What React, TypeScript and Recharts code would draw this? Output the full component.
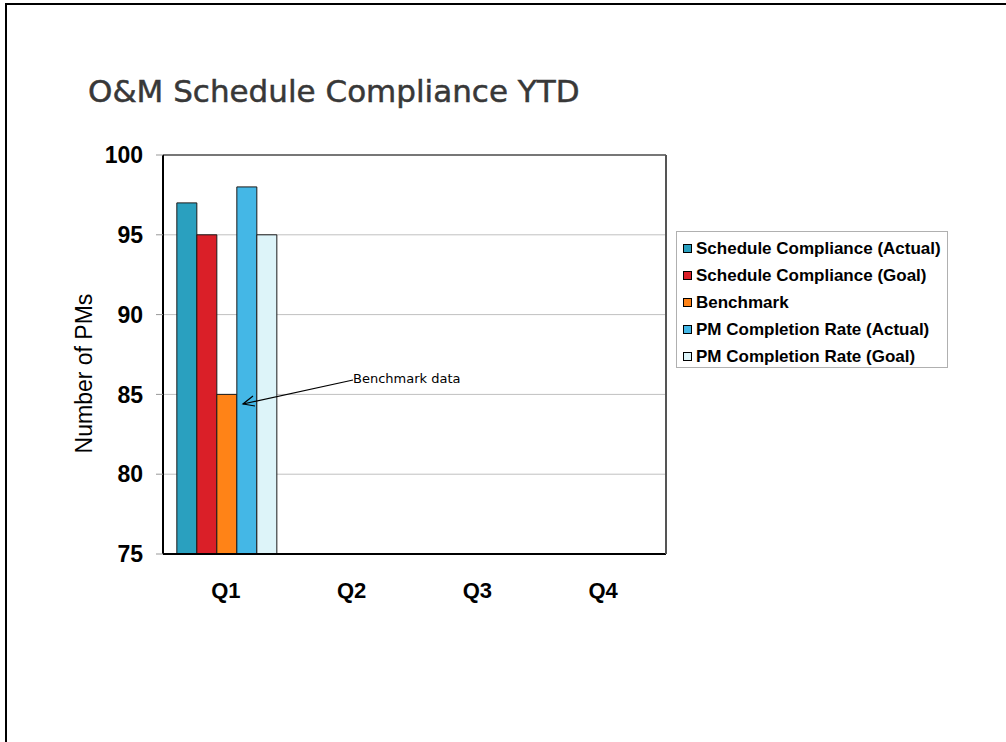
import { BarChart, Bar, XAxis, YAxis, CartesianGrid, ReferenceLine } from "recharts";

const quarters = ["Q1", "Q2", "Q3", "Q4"];
const schedActual = [97, null, null, null];
const schedGoal = [95, null, null, null];
const benchmark = [85, null, null, null];
const pmActual = [98, null, null, null];
const pmGoal = [95, null, null, null];
const yTicks = [75, 80, 85, 90, 95, 100];
const boundaryTicks = [0, 1, 2, 3, 4];

const series = [
  { key: "schedActual", name: "Schedule Compliance (Actual)", color: "#2aa0bf" },
  { key: "schedGoal", name: "Schedule Compliance (Goal)", color: "#da1f28" },
  { key: "benchmark", name: "Benchmark", color: "#ff8317" },
  { key: "pmActual", name: "PM Completion Rate (Actual)", color: "#44b7e6" },
  { key: "pmGoal", name: "PM Completion Rate (Goal)", color: "#ddf4f9" },
];

const data = quarters.map((q, i) => ({
  q,
  schedActual: schedActual[i],
  schedGoal: schedGoal[i],
  benchmark: benchmark[i],
  pmActual: pmActual[i],
  pmGoal: pmGoal[i],
}));

const yLabel = (props: any) => {
  const vb = props.viewBox;
  const cx = vb.x + 11;
  const cy = vb.y + vb.height / 2 + 19;
  return (
    <text
      x={cx}
      y={cy}
      transform={`rotate(-90 ${cx} ${cy})`}
      textAnchor="middle"
      dominantBaseline="central"
      fontFamily="'Liberation Sans', Arial, sans-serif"
      fontSize={23}
      fill="#000"
    >
      Number of PMs
    </text>
  );
};

export default function App() {
  return (
    <div style={{ position: "relative", width: 1006, height: 742, overflow: "hidden", background: "#fff" }}>
      <style>{`body{margin:0}`}</style>
      <div
        style={{
          position: "absolute",
          left: 5,
          top: 3,
          width: 1100,
          height: 900,
          borderLeft: "2px solid #000",
          borderTop: "2px solid #000",
        }}
      />
      <div
        style={{
          position: "absolute",
          left: 88,
          top: 73,
          fontFamily: "'DejaVu Sans', sans-serif",
          fontSize: 31,
          color: "#383838",
          whiteSpace: "nowrap",
          WebkitTextStroke: "0.5px #383838",
        }}
      >
        O&amp;M Schedule Compliance YTD
      </div>
      <div style={{ position: "absolute", left: 0, top: 0 }}>
        <BarChart
          width={1006}
          height={742}
          data={data}
          margin={{ top: 155, right: 339, bottom: 128, left: 73 }}
          barCategoryGap="11%"
          barGap={0}
        >
          <CartesianGrid horizontal vertical={false} stroke="#c0c0c0" yAxisId="left" xAxisId="cat" />
          <XAxis
            xAxisId="ticks"
            type="number"
            domain={[0, 4]}
            ticks={boundaryTicks}
            height={0}
            axisLine={false}
            tickSize={7}
            tickLine={{ stroke: "#999" }}
            tick={{ fill: "transparent", fontSize: 1 }}
          />
          <XAxis
            xAxisId="cat"
            dataKey="q"
            height={60}
            axisLine={{ stroke: "#000", strokeWidth: 2 }}
            tickLine={false}
            tickMargin={22}
            tick={{ fill: "#000", fontSize: 22, fontWeight: "bold", fontFamily: "'Liberation Sans', Arial, sans-serif" }}
          />
          <YAxis
            yAxisId="left"
            domain={[75, 100]}
            ticks={yTicks}
            interval={0}
            width={90}
            allowDataOverflow
            axisLine={{ stroke: "#000", strokeWidth: 2 }}
            tickSize={7}
            tickLine={{ stroke: "#999" }}
            tickMargin={13}
            tick={{ fill: "#000", fontSize: 23, fontWeight: "bold", fontFamily: "'Liberation Sans', Arial, sans-serif" }}
            label={{ content: yLabel }}
          />
          <YAxis
            yAxisId="right"
            orientation="right"
            domain={[75, 100]}
            width={1}
            tick={false}
            tickLine={false}
            axisLine={{ stroke: "#555", strokeWidth: 2 }}
          />
          <ReferenceLine yAxisId="left" xAxisId="cat" y={100} stroke="#777" strokeWidth={2} />
          {series.map((s) => (
            <Bar
              key={s.key}
              dataKey={s.key}
              name={s.name}
              fill={s.color}
              stroke="#1a1a1a"
              strokeWidth={1}
              yAxisId="left"
              xAxisId="cat"
              isAnimationActive={false}
            />
          ))}
        </BarChart>
      </div>
      <div
        style={{
          position: "absolute",
          left: 676,
          top: 231,
          border: "1px solid #b0b0b0",
          background: "#fff",
          padding: "3px 0 0 6px",
          boxSizing: "border-box",
          width: 272,
          height: 137,
          fontFamily: "'Liberation Sans', Arial, sans-serif",
          fontWeight: "bold",
          fontSize: 17,
          color: "#000",
        }}
      >
        {series.map((s) => (
          <div key={s.key} style={{ display: "flex", alignItems: "center", height: 27, whiteSpace: "nowrap" }}>
            <span
              style={{
                display: "inline-block",
                width: 7,
                height: 7,
                background: s.color,
                border: "1px solid #000",
                marginRight: 4,
              }}
            />
            {s.name}
          </div>
        ))}
      </div>
      <svg
        width={1006}
        height={742}
        style={{ position: "absolute", left: 0, top: 0, pointerEvents: "none" }}
      >
        <line x1={353} y1={380} x2={243} y2={404} stroke="#000" strokeWidth={1.2} />
        <polyline points="253,396 243,404 255,406" fill="none" stroke="#000" strokeWidth={1.2} />
        <text x={353} y={383} fontFamily="'DejaVu Sans', sans-serif" fontSize={13} fill="#000">
          Benchmark data
        </text>
      </svg>
    </div>
  );
}
